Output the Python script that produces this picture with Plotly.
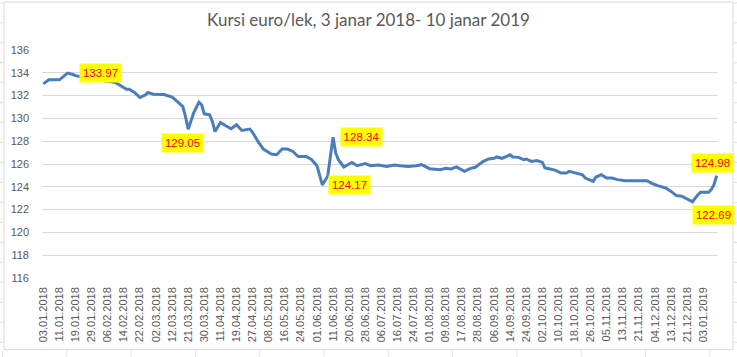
import plotly.graph_objects as go

# ---------------- data ----------------
tick_labels = [
    "03.01.2018", "11.01.2018", "19.01.2018", "29.01.2018", "06.02.2018", "14.02.2018",
    "22.02.2018", "02.03.2018", "12.03.2018", "21.03.2018", "30.03.2018", "11.04.2018",
    "19.04.2018", "27.04.2018", "08.05.2018", "16.05.2018", "24.05.2018", "01.06.2018",
    "11.06.2018", "20.06.2018", "28.06.2018", "06.07.2018", "16.07.2018", "24.07.2018",
    "01.08.2018", "09.08.2018", "17.08.2018", "28.08.2018", "06.09.2018", "14.09.2018",
    "24.09.2018", "02.10.2018", "10.10.2018", "18.10.2018", "26.10.2018", "05.11.2018",
    "13.11.2018", "21.11.2018", "04.12.2018", "13.12.2018", "21.12.2018", "03.01.2019",
]
n_days = 252          # trading days from 03.01.2018 to 10.01.2019
label_step = 6        # a date label every 6th trading day

day_index = [
    0, 2, 6, 9, 11, 12, 15, 19, 24, 27, 29, 31, 32, 34, 36, 38, 39, 41, 45, 48,
    50, 52, 53, 54, 56, 58, 59, 60, 62, 63, 64, 66, 68, 70, 72, 74, 77, 78, 80, 82,
    85, 87, 89, 91, 93, 95, 98, 100, 102, 103, 104, 106, 107, 108, 109, 110, 112, 115, 117, 120,
    122, 125, 128, 131, 133, 136, 139, 141, 144, 148, 150, 152, 154, 157, 159, 161, 164, 166, 168, 169,
    171, 174, 175, 177, 179, 180, 182, 184, 186, 187, 189, 191, 193, 195, 196, 199, 201, 202, 205, 206,
    208, 210, 212, 214, 217, 225, 227, 229, 232, 234, 236, 238, 240, 242, 244, 245, 248, 249, 250, 251,
]
rate = [
    133.03, 133.38, 133.38, 133.97, 133.85, 133.75, 133.60, 133.45, 133.25, 133.14,
    132.85, 132.56, 132.56, 132.27, 131.83, 132.06, 132.27, 132.12, 132.10, 131.86,
    131.48, 131.04, 130.16, 129.05, 130.46, 131.42, 131.19, 130.40, 130.31, 129.73,
    128.85, 129.64, 129.35, 129.09, 129.44, 128.94, 129.06, 128.77, 127.98, 127.31,
    126.88, 126.81, 127.31, 127.31, 127.10, 126.66, 126.66, 126.38, 125.85, 125.06,
    124.17, 124.92, 126.66, 128.34, 126.96, 126.38, 125.74, 126.14, 125.85, 126.03,
    125.85, 125.91, 125.79, 125.91, 125.85, 125.79, 125.85, 125.94, 125.59, 125.50,
    125.62, 125.56, 125.74, 125.35, 125.59, 125.71, 126.23, 126.44, 126.50, 126.62,
    126.50, 126.81, 126.62, 126.60, 126.38, 126.44, 126.23, 126.30, 126.14, 125.65,
    125.56, 125.44, 125.21, 125.21, 125.35, 125.15, 125.06, 124.77, 124.48, 124.86,
    125.06, 124.77, 124.77, 124.63, 124.54, 124.54, 124.28, 124.10, 123.90, 123.60,
    123.23, 123.17, 122.94, 122.69, 123.31, 123.52, 123.52, 123.75, 124.19, 124.98,
]
labelled_days = [9, 54, 104, 108, 251, 242]

# ---------------- styling ----------------
title_text = "Kursi euro/lek, 3 janar 2018- 10 janar 2019"
line_color = "#4A7EBB"
grid_color = "#D9D9D9"
text_gray = "#595959"

# label placement: (xanchor, yanchor, xshift, yshift)
label_place = {
    9: ("left", "middle", 12, 0),
    54: ("center", "top", -6, -4),
    104: ("left", "middle", 6, 0),
    108: ("left", "middle", 7, 0),
    251: ("center", "bottom", -4, 3),
    242: ("left", "top", -1, -3),
}

fig = go.Figure()
fig.add_trace(go.Scatter(
    x=day_index, y=rate, mode="lines",
    line=dict(color=line_color, width=3),
    hoverinfo="skip", showlegend=False,
))

lookup = dict(zip(day_index, rate))
for d in labelled_days:
    xa, ya, xs, ys = label_place[d]
    fig.add_annotation(
        x=d, y=lookup[d], text=f"{lookup[d]:.2f}", showarrow=False,
        xanchor=xa, yanchor=ya, xshift=xs, yshift=ys,
        bgcolor="#FFFF00", borderpad=2, width=37, height=14,
        font=dict(family="Liberation Sans, Arial", size=11.5, color="#FF0000"),
    )

# chart border and surrounding spreadsheet cell lines (decorative)
L, R, T, B = 42, 718, 50, 278.3
def px(xp):
    return (xp - L) / (R - L)
def py(yp):
    return (B - yp) / (B - T)

shapes = [dict(type="rect", xref="paper", yref="paper",
               x0=px(4), x1=px(733), y0=py(350), y1=py(2),
               line=dict(color="#D9D9D9", width=1), layer="below")]
for k in range(12):
    xv = 2.5 + 64.3 * k
    shapes.append(dict(type="line", xref="paper", yref="paper",
                       x0=px(xv), x1=px(xv), y0=py(351), y1=py(357),
                       line=dict(color="#E1E1E1", width=1)))
for k in range(18):
    yv = 2.7 + 20 * k
    if yv > 350:
        break
    shapes.append(dict(type="line", xref="paper", yref="paper",
                       x0=px(734), x1=px(737), y0=py(yv), y1=py(yv),
                       line=dict(color="#E1E1E1", width=1)))
    shapes.append(dict(type="line", xref="paper", yref="paper",
                       x0=px(0), x1=px(3), y0=py(yv), y1=py(yv),
                       line=dict(color="#E1E1E1", width=1)))

fig.update_layout(
    width=737, height=357,
    margin=dict(l=L, r=737 - R, t=T, b=357 - B),
    paper_bgcolor="white", plot_bgcolor="white",
    title=dict(text=title_text, x=0.5, xref="container", xanchor="center",
               y=1 - 20 / 357, yref="container", yanchor="middle",
               font=dict(family="Lato, Liberation Sans", size=17, color=text_gray)),
    shapes=shapes,
    font=dict(family="Liberation Sans, Arial", color=text_gray),
)
fig.update_xaxes(
    range=[-0.5, n_days - 0.5],
    tickmode="array",
    tickvals=list(range(0, n_days, label_step))[:len(tick_labels)],
    ticktext=tick_labels,
    tickangle=-90, tickfont=dict(size=11, color=text_gray),
    showgrid=False, zeroline=False, showline=False,
    ticks="", ticklabelstandoff=6, automargin=False,
)
fig.update_yaxes(
    range=[116, 136], dtick=2, tick0=116,
    showgrid=True, gridcolor=grid_color, gridwidth=1,
    zeroline=False, showline=False,
    tickfont=dict(size=11, color=text_gray),
    ticks="", ticklabelstandoff=12, automargin=False,
)

fig.write_html(
    "out.html",
    config={"displayModeBar": False, "staticPlot": True},
    post_script="document.body.style.margin='0';document.body.style.overflow='hidden';",
)
